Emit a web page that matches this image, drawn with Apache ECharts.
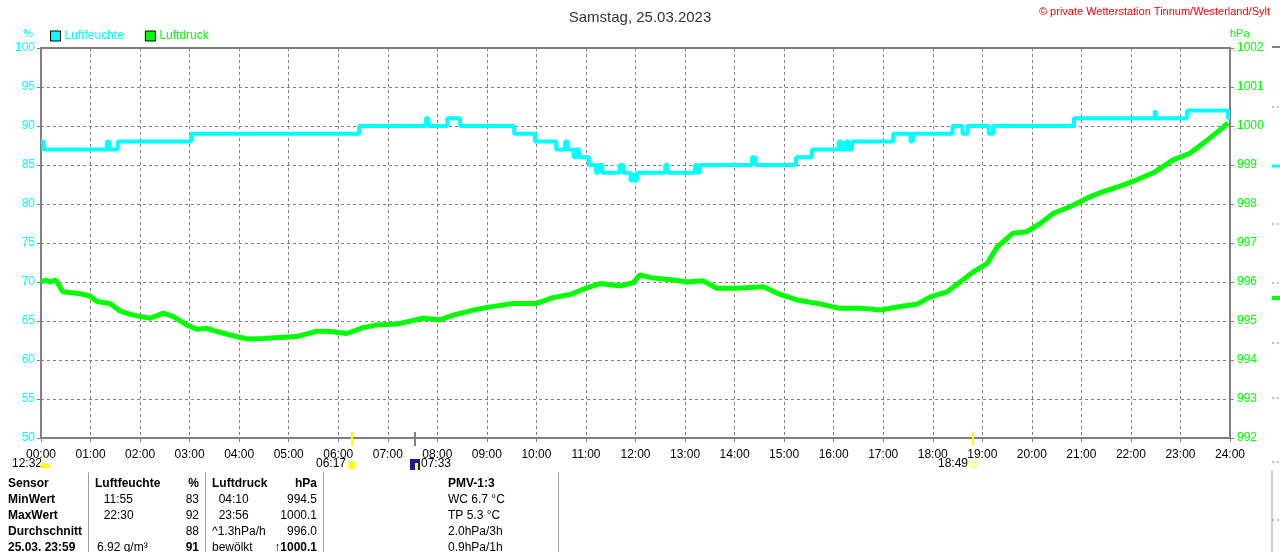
<!DOCTYPE html>
<html>
<head>
<meta charset="utf-8">
<title>Samstag, 25.03.2023</title>
<script src="https://cdn.jsdelivr.net/npm/echarts@6/dist/echarts.min.js"></script>
<style>
  html, body { margin: 0; padding: 0; background: #fff; }
  #chart { width: 1280px; height: 552px; }
</style>
</head>
<body>
<div id="chart"></div>
<script>
// Luftfeuchte (%), Stufen: Zeitpunkt in Stunden -> Wert ab diesem Zeitpunkt
var humTime = [0, 0.05, 1.33, 1.38, 1.55, 3.03, 6.42, 7.77, 7.82, 8.2, 8.46, 9.55, 9.97, 10.4, 10.58, 10.63,
  10.75, 10.8, 10.86, 11.06, 11.2, 11.25, 11.33, 11.68, 11.75, 11.9, 11.95, 11.98, 12.03, 12.6, 12.65,
  13.2, 13.25, 13.3, 14.35, 14.42, 15.24, 15.56, 16.1, 16.15, 16.25, 16.3, 16.37, 17.2, 17.55, 17.6,
  18.4, 18.6, 18.7, 19.13, 19.22, 20.85, 22.48, 22.52, 23.13, 23.96, 24];
var humVal = [88, 87, 88, 87, 88, 89, 90, 91, 90, 91, 90, 89, 88, 87, 88, 87,
  86, 87, 86, 85, 84, 85, 84, 85, 84, 83, 84, 83, 84, 85, 84,
  85, 84, 85, 86, 85, 86, 87, 88, 87, 88, 87, 88, 89, 88, 89,
  90, 89, 90, 89, 90, 91, 92, 91, 92, 91, 91];

// Luftdruck (hPa)
var presTime = [0, 0.1, 0.18, 0.3, 0.44, 0.58, 0.8, 0.99, 1.13, 1.39, 1.59, 1.86, 2.2, 2.47, 2.67, 2.94,
  3.14, 3.35, 3.55, 3.82, 4.15, 4.49, 4.82, 5.16, 5.57, 5.84, 6.17, 6.5, 6.78, 7.18, 7.71, 8.05,
  8.32, 8.72, 9.0, 9.53, 10.01, 10.33, 10.68, 11.02, 11.28, 11.69, 11.95, 12.09, 12.36, 12.76, 13.04,
  13.36, 13.64, 14.05, 14.58, 14.86, 15.26, 15.72, 16.1, 16.53, 16.94, 17.34, 17.68, 17.95, 18.29,
  18.55, 18.82, 19.1, 19.3, 19.62, 19.9, 20.17, 20.43, 20.77, 21.11, 21.44, 21.78, 22.12, 22.45,
  22.85, 23.19, 23.46, 23.8, 23.96];
var presVal = [996.0, 996.05, 996.0, 996.05, 995.75, 995.73, 995.7, 995.64, 995.5, 995.45, 995.26, 995.15, 995.07, 995.2, 995.11, 994.9,
  994.79, 994.81, 994.73, 994.64, 994.54, 994.55, 994.58, 994.6, 994.74, 994.73, 994.68, 994.83, 994.9, 994.92, 995.07, 995.03,
  995.15, 995.28, 995.35, 995.45, 995.45, 995.6, 995.68, 995.85, 995.96, 995.9, 995.98, 996.18, 996.1, 996.05, 996.0,
  996.03, 995.84, 995.84, 995.88, 995.71, 995.54, 995.44, 995.33, 995.33, 995.28, 995.37, 995.43, 995.62, 995.75,
  996.0, 996.26, 996.48, 996.9, 997.25, 997.29, 997.5, 997.76, 997.93, 998.15, 998.32, 998.46, 998.62, 998.8,
  999.13, 999.3, 999.56, 999.9, 1000.08];

// Sonnenauf-/untergang usw.
var eventTime = [6 + 17 / 60, 7 + 33 / 60, 18 + 49 / 60];
var eventLabel = ['06:17', '07:33', '18:49'];
var eventColor = ['#ffff00', '#808080', '#ffff00'];

// Tabelle unten
var tableRows = ['Sensor', 'MinWert', 'MaxWert', 'Durchschnitt', '25.03. 23:59'];
var humInfo = ['Luftfeuchte', '  11:55', '  22:30', '', '6.92 g/m³'];
var humVals = ['%', '83', '92', '88', '91'];
var presInfo = ['Luftdruck', '  04:10', '  23:56', '^1.3hPa/h', 'bewölkt'];
var presVals = ['hPa', '994.5', '1000.1', '996.0', '↑1000.1'];
var pmvInfo = ['PMV-1:3', 'WC 6.7 °C', 'TP 5.3 °C', '2.0hPa/3h', '0.9hPa/1h'];

var FONT = '"Liberation Sans", Arial, sans-serif';

function pad(n) { return n < 10 ? '0' + n : '' + n; }
function pairs(t, v) {
  var out = [];
  for (var i = 0; i < t.length; i++) out.push([t[i], v[i]]);
  return out;
}

var chart = echarts.init(document.getElementById('chart'));

var option = {
  animation: false,
  textStyle: { fontFamily: FONT },
  title: {
    text: 'Samstag, 25.03.2023',
    left: 'center',
    top: 5,
    textStyle: { fontSize: 15, fontWeight: 'normal', color: '#333', fontFamily: FONT }
  },
  legend: {
    left: 50,
    top: 30,
    padding: 0,
    itemWidth: 10,
    itemHeight: 10,
    itemGap: 21,
    icon: 'rect',
    itemStyle: { borderColor: '#000', borderWidth: 1 },
    textStyle: { fontSize: 12, fontFamily: FONT, padding: [0, 0, 0, -1] },
    data: [
      { name: 'Luftfeuchte', textStyle: { color: '#00ffff' } },
      { name: 'Luftdruck', textStyle: { color: '#00ff00' } }
    ]
  },
  grid: {
    left: 41, right: 50, top: 48, bottom: 114,
    show: true, borderColor: '#808080', borderWidth: 2
  },
  xAxis: {
    type: 'value',
    min: 0, max: 24, interval: 1,
    axisLine: { show: false },
    axisTick: { show: true, length: 4, lineStyle: { color: '#808080' } },
    axisLabel: {
      color: '#000', fontSize: 12, margin: 11,
      formatter: function (v) { return pad(v) + ':00'; }
    },
    splitLine: { show: true, lineStyle: { color: '#808080', type: [3, 3] } }
  },
  yAxis: [{
    type: 'value',
    min: 50, max: 100, interval: 5,
    name: '%',
    nameGap: 9,
    nameTextStyle: { color: '#00ffff', fontSize: 11, align: 'right', padding: [0, 8, 0, 0] },
    axisLine: { show: false },
    axisTick: { show: true, length: 4, lineStyle: { color: '#808080' } },
    axisLabel: { color: '#00ffff', fontSize: 12, margin: 6 },
    splitLine: { show: true, lineStyle: { color: '#808080', type: [3, 3] } }
  }, {
    type: 'value',
    min: 992, max: 1002, interval: 1,
    name: 'hPa',
    nameGap: 9,
    nameTextStyle: { color: '#00ff00', fontSize: 11, align: 'left', padding: [0, 0, 0, 0] },
    axisLine: { show: false },
    axisTick: { show: true, length: 4, lineStyle: { color: '#808080' } },
    axisLabel: { color: '#00ff00', fontSize: 12, margin: 7, formatter: function (v) { return String(v); } },
    splitLine: { show: false }
  }],
  series: [{
    name: 'Luftfeuchte',
    type: 'line',
    step: 'end',
    showSymbol: false,
    color: '#00ffff',
    lineStyle: { width: 4, color: '#00ffff' },
    data: pairs(humTime, humVal)
  }, {
    name: 'Luftdruck',
    type: 'line',
    yAxisIndex: 1,
    showSymbol: false,
    color: '#00ff00',
    lineStyle: { width: 5, color: '#00ff00' },
    data: pairs(presTime, presVal)
  }]
};
chart.setOption(option);

// Zusatzgrafik: Copyright, Ereignis-Marken, Tabelle
var g = [];
g.push({
  type: 'text', right: 10, top: 6,
  style: { text: '© private Wetterstation Tinnum/Westerland/Sylt', fill: '#ff0000', font: '11px ' + FONT }
});

var axisY = chart.convertToPixel({ yAxisIndex: 0 }, 50);
for (var i = 0; i < eventTime.length; i++) {
  var ex = Math.round(chart.convertToPixel({ xAxisIndex: 0 }, eventTime[i]));
  g.push({ type: 'rect', shape: { x: ex - 1, y: axisY - 6, width: 2, height: 14 }, style: { fill: eventColor[i] }, z: 10 });
  if (i === 0) {
    g.push({ type: 'text', x: ex - 6, y: 458, style: { text: eventLabel[i], fill: '#000', font: '12px ' + FONT, textAlign: 'right' } });
    g.push({ type: 'circle', shape: { cx: ex, cy: 465, r: 4 }, style: { fill: '#ffff00', stroke: '#ffee66', lineWidth: 1 } });
  } else if (i === 1) {
    g.push({ type: 'rect', shape: { x: ex - 5, y: 459, width: 10, height: 11 }, style: { fill: '#1a1a80' } });
    g.push({ type: 'rect', shape: { x: ex, y: 463, width: 3, height: 7 }, style: { fill: '#ffff00' } });
    g.push({ type: 'text', x: ex + 6, y: 458, style: { text: eventLabel[i], fill: '#000', font: '12px ' + FONT } });
  } else {
    g.push({ type: 'text', x: ex - 5, y: 458, style: { text: eventLabel[i], fill: '#000', font: '12px ' + FONT, textAlign: 'right' } });
    g.push({ type: 'rect', shape: { x: ex - 3, y: 462, width: 6, height: 5 }, style: { fill: 'none', stroke: '#ffff00', lineWidth: 1 } });
  }
}
// Mond links unten
g.push({ type: 'text', x: 12, y: 458, style: { text: '12:32', fill: '#000', font: '12px ' + FONT } });
g.push({ type: 'sector', shape: { cx: 45, cy: 468, r: 5, startAngle: Math.PI, endAngle: 2 * Math.PI }, style: { fill: '#ffff00' } });

// abgeschnittenes Nachbarpanel am rechten Rand
g.push({ type: 'line', shape: { x1: 1272, y1: 47, x2: 1280, y2: 47 }, style: { stroke: '#808080', lineWidth: 2 } });
[107, 224, 283, 343, 398, 462, 520].forEach(function (yy) {
  g.push({ type: 'line', shape: { x1: 1272, y1: yy, x2: 1280, y2: yy }, style: { stroke: '#808080', lineWidth: 1, lineDash: [2, 3] } });
});
g.push({ type: 'line', shape: { x1: 1272, y1: 166, x2: 1280, y2: 166 }, style: { stroke: '#00ffff', lineWidth: 3 } });
g.push({ type: 'line', shape: { x1: 1272, y1: 298, x2: 1280, y2: 298 }, style: { stroke: '#00ff00', lineWidth: 4 } });
g.push({ type: 'line', shape: { x1: 1272, y1: 470, x2: 1272, y2: 552 }, style: { stroke: '#a0a0a0', lineWidth: 1 } });

// Tabelle
[88, 205, 323, 558].forEach(function (xx) {
  g.push({ type: 'line', shape: { x1: xx + 0.5, y1: 472, x2: xx + 0.5, y2: 552 }, style: { stroke: '#a0a0a0', lineWidth: 1 } });
});
function cell(txt, x, y, bold, align) {
  g.push({
    type: 'text', x: x, y: y,
    style: { text: txt, fill: '#000', font: (bold ? 'bold ' : '') + '12px ' + FONT, textAlign: align || 'left', textVerticalAlign: 'middle' }
  });
}
for (var r = 0; r < tableRows.length; r++) {
  var yy = 484 + r * 16;
  var head = r === 0;
  cell(tableRows[r], 8, yy, true);
  cell(humInfo[r], head ? 95 : 97, yy, head);
  cell(humVals[r], 199, yy, head || r === 4, 'right');
  cell(presInfo[r], 212, yy, head);
  cell(presVals[r], 317, yy, head || r === 4, 'right');
  cell(pmvInfo[r], 448, yy, head);
}

chart.setOption({ graphic: g });
</script>
</body>
</html>
